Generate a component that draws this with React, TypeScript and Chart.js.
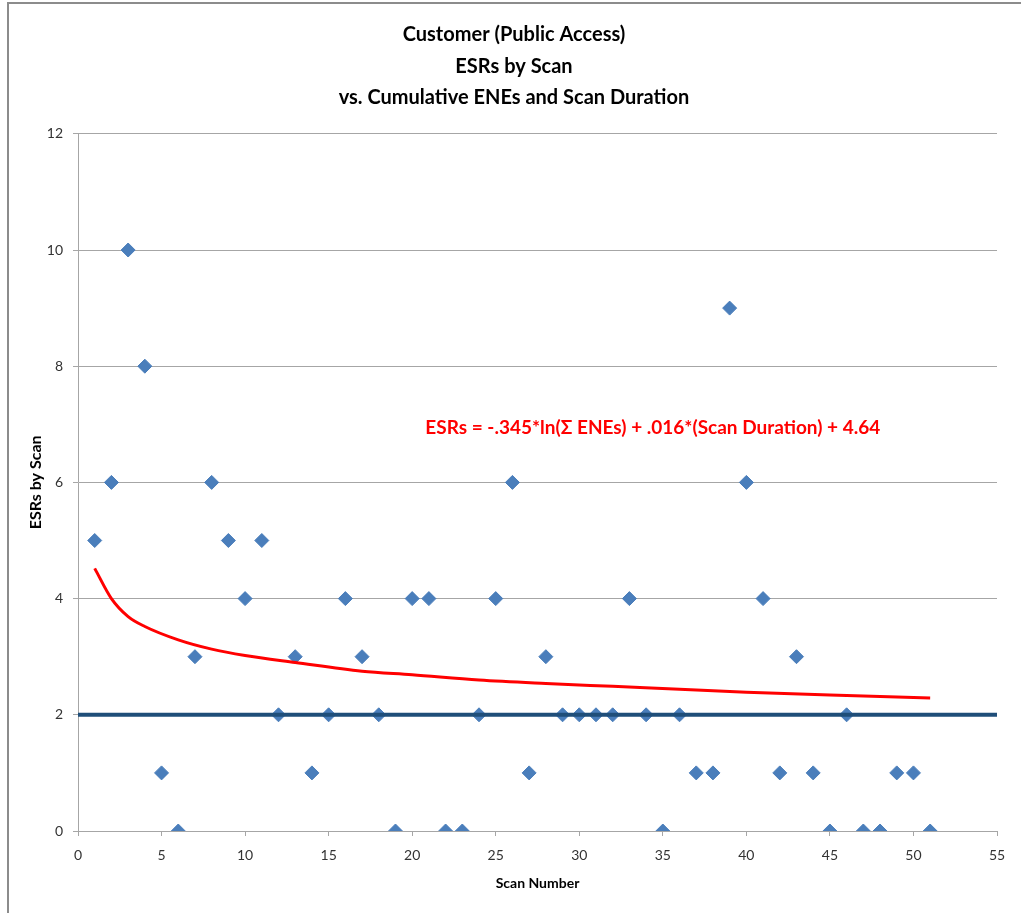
import React, { useEffect, useRef } from "react";
import { Chart, registerables } from "chart.js";

Chart.register(...registerables);

const titleLines = ["Customer (Public Access)", "ESRs by Scan", "vs. Cumulative ENEs and Scan Duration"];
const xAxisTitle = "Scan Number";
const yAxisTitle = "ESRs by Scan";
const equationText = "ESRs = -.345*ln(\u03A3 ENEs) + .016*(Scan Duration) + 4.64";

const scanNumbers = [
  1, 2, 3, 4, 5, 6, 7, 8, 9, 10, 11, 12, 13, 14, 15, 16, 17, 18, 19, 20, 21, 22, 23, 24, 25, 26,
  27, 28, 29, 30, 31, 32, 33, 34, 35, 36, 37, 38, 39, 40, 41, 42, 43, 44, 45, 46, 47, 48, 49, 50, 51,
];
const esrsByScan = [
  5, 6, 10, 8, 1, 0, 3, 6, 5, 4, 5, 2, 3, 1, 2, 4, 3, 2, 0, 4, 4, 0, 0, 2, 4, 6,
  1, 3, 2, 2, 2, 2, 4, 2, 0, 2, 1, 1, 9, 6, 4, 1, 3, 1, 0, 2, 0, 0, 1, 1, 0,
];

const trendX = [1, 2, 3, 4, 6, 8, 10, 13, 17, 20, 24, 28, 32, 36, 40, 45, 51];
const trendY = [4.52, 4.0, 3.69, 3.52, 3.29, 3.13, 3.02, 2.9, 2.75, 2.69, 2.6, 2.54, 2.49, 2.44, 2.39, 2.34, 2.29];

const baselineX = [0, 55];
const baselineY = [2, 2];

const equationAnchor = { x: 34.4, y: 6.94 };

const FONT = "Lato, 'Open Sans', sans-serif";
const GRID = "#A6A6A6";

export default function App() {
  const ref = useRef<HTMLCanvasElement | null>(null);

  useEffect(() => {
    if (!ref.current) return;

    const frame = {
      id: "frame",
      beforeDraw(chart: any) {
        const c = chart.ctx;
        c.save();
        c.fillStyle = "#ffffff";
        c.fillRect(0, 0, chart.width, chart.height);
        c.strokeStyle = "#8C8C8C";
        c.lineWidth = 2;
        c.beginPath();
        c.moveTo(8, chart.height + 5);
        c.lineTo(8, 3);
        c.lineTo(chart.width + 5, 3);
        c.stroke();
        c.restore();
      },
      afterDatasetsDraw(chart: any) {
        const c = chart.ctx;
        const xs = chart.scales.x;
        const ys = chart.scales.y;
        c.save();
        c.fillStyle = "#FF0000";
        c.font = `bold 19px ${FONT}`;
        c.textAlign = "center";
        c.textBaseline = "middle";
        c.fillText(equationText, xs.getPixelForValue(equationAnchor.x), ys.getPixelForValue(equationAnchor.y));
        c.restore();
      },
    };

    const chart = new Chart(ref.current, {
      type: "scatter",
      data: {
        datasets: [
          {
            type: "line",
            label: "Baseline",
            data: baselineX.map((x, i) => ({ x, y: baselineY[i] })),
            borderColor: "#1F4E79",
            borderWidth: 4,
            pointRadius: 0,
            order: 0,
          },
          {
            type: "line",
            label: "Trend",
            data: trendX.map((x, i) => ({ x, y: trendY[i] })),
            borderColor: "#FF0000",
            borderWidth: 3,
            pointRadius: 0,
            cubicInterpolationMode: "monotone",
            order: 1,
          },
          {
            type: "scatter",
            label: "ESRs",
            data: scanNumbers.map((x, i) => ({ x, y: esrsByScan[i] })),
            backgroundColor: "#4A7EBB",
            borderColor: "#4A7EBB",
            borderWidth: 1,
            pointStyle: "rectRot",
            pointRadius: 7,
            order: 2,
          },
        ],
      } as any,
      options: {
        animation: false,
        responsive: true,
        maintainAspectRatio: false,
        layout: { padding: { left: 31, right: 24, top: 0, bottom: 0 } },
        plugins: {
          legend: { display: false },
          tooltip: { enabled: false },
          title: {
            display: true,
            text: titleLines,
            color: "#000000",
            font: { family: FONT, size: 20, weight: "bold", lineHeight: 1.58 },
            padding: { top: 19, bottom: 20 },
          },
        },
        scales: {
          x: {
            type: "linear",
            min: 0,
            max: 55,
            afterFit: (s: any) => {
              s.height = 82;
            },
            ticks: { stepSize: 5, color: "#333333", font: { family: FONT, size: 14 }, padding: 11, maxRotation: 0 },
            grid: { drawOnChartArea: false, drawTicks: true, tickLength: 5, color: GRID },
            border: { display: true, color: GRID },
            title: {
              display: true,
              text: xAxisTitle,
              color: "#000000",
              font: { family: FONT, size: 14, weight: "bold" },
              padding: { top: 0, bottom: 21 },
            },
          },
          y: {
            min: 0,
            max: 12,
            afterFit: (s: any) => {
              s.width = 47;
            },
            ticks: { stepSize: 2, color: "#333333", font: { family: FONT, size: 14 }, padding: 10 },
            grid: { color: GRID, tickLength: 5 },
            border: { display: true, color: GRID },
            title: {
              display: true,
              text: yAxisTitle,
              color: "#000000",
              font: { family: FONT, size: 16, weight: "bold" },
              padding: { top: -5, bottom: 0 },
            },
          },
        },
      },
      plugins: [frame],
    });

    return () => chart.destroy();
  }, []);

  return (
    <div style={{ position: "absolute", left: 0, top: 0, width: 1021, height: 913, background: "#fff" }}>
      <canvas ref={ref} />
    </div>
  );
}
